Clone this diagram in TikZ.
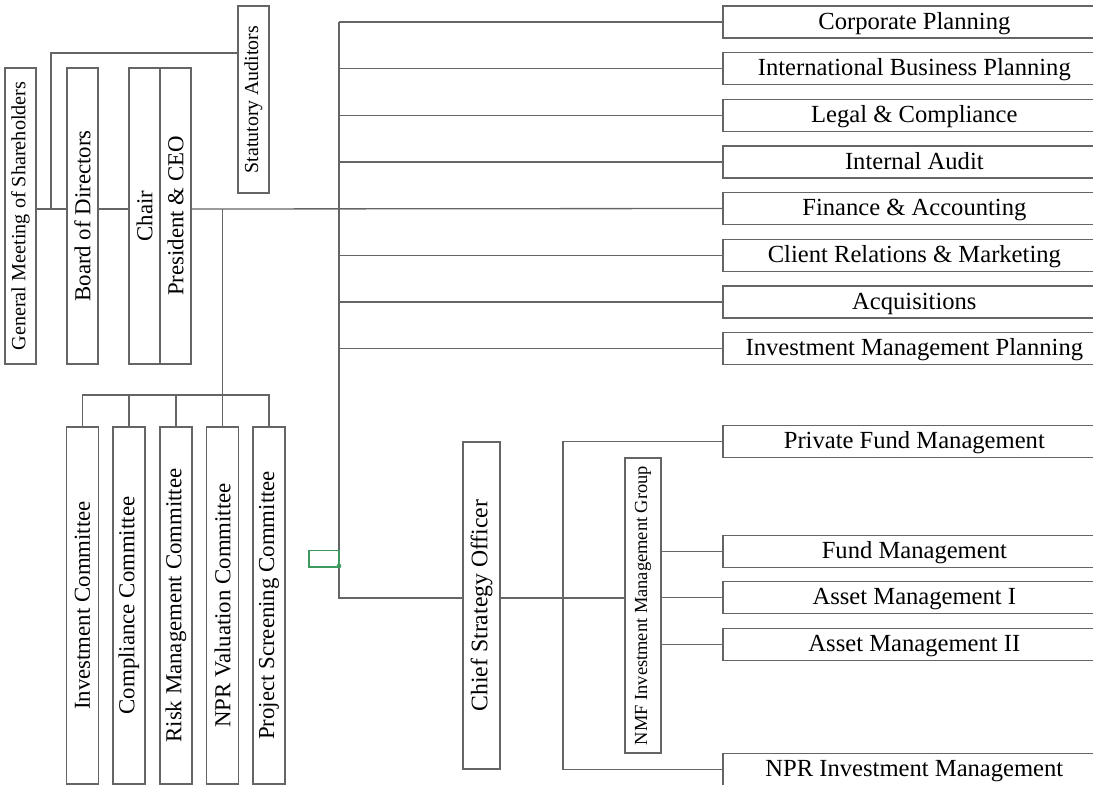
\documentclass[tikz,border=0pt]{standalone}
\usepackage{fontspec}
\setmainfont{Liberation Serif}
\usepackage{tikz}
\usetikzlibrary{calc}
\definecolor{linegray}{HTML}{656565}
\definecolor{excelgreen}{HTML}{3C9A5F}
\newcommand{\linecolor}{linegray}
\newcommand{\px}{0.02cm}
\newcommand{\thickness}{0.75pt}

\tikzset{
  vbox/.style={draw=\linecolor, line width=\thickness, rotate=90, inner sep=0pt, minimum height=31*\px, font=\fontsize{13}{15}\selectfont},
  hbox/.style={anchor=west, inner sep=0pt, minimum width=382*\px, minimum height=31*\px, text height=0.9em, text depth=0.1em, font=\fontsize{14}{16}\selectfont},
  link/.style={draw=\linecolor, line width=\thickness}
}

\begin{document}
\begin{tikzpicture}[x=\px, y=-\px]
\useasboundingbox (0,0) rectangle (1093,785);
\clip (0,0) rectangle (1093,785);
%top level
\node[vbox, minimum width=296*\px, font=\fontsize{11.5}{13}\selectfont] (gm) at (20.5,216) {General Meeting of Shareholders};
\node[vbox, minimum width=296*\px] (board) at (82.5,216) {Board of Directors};
\node[vbox, minimum width=296*\px] (chair) at (144.5,216) {Chair};
\node[vbox, minimum width=296*\px] (ceo) at (175.5,216) {President \& CEO};
\node[vbox, minimum width=187*\px, font=\fontsize{11.3}{13}\selectfont] (sa) at (253.5,99.5) {Statutory Auditors};
%committees
\node[vbox, minimum width=357*\px, minimum height=32*\px] (ic) at (82.5,605.5) {Investment Committee};
\node[vbox, minimum width=357*\px, minimum height=32*\px] (cc) at (129,605.5) {Compliance Committee};
\node[vbox, minimum width=357*\px, minimum height=32*\px] (rmc) at (176,605.5) {Risk Management Committee};
\node[vbox, minimum width=357*\px, minimum height=32*\px] (nvc) at (222.5,605.5) {NPR Valuation Committee};
\node[vbox, minimum width=357*\px, minimum height=32*\px] (psc) at (269,605.5) {Project Screening Committee};
%cso
\node[vbox, minimum width=327*\px, minimum height=37*\px, font=\fontsize{13.5}{15}\selectfont] (cso) at (481.5,605.5) {Chief Strategy Officer};
\node[vbox, minimum width=295*\px, minimum height=36*\px, font=\fontsize{10.5}{12}\selectfont] (nmf) at (643,605.5) {NMF Investment Management Group};
%departments (cut off at the right)
\node[hbox] (cp) at (723,22) {Corporate Planning};
\node[hbox] (ibp) at (723,68.5) {International Business Planning};
\node[hbox] (lc) at (723,115.5) {Legal \& Compliance};
\node[hbox] (ia) at (723,162) {Internal Audit};
\node[hbox] (fa) at (723,208.5) {Finance \& Accounting};
\node[hbox] (crm) at (723,255.5) {Client Relations \& Marketing};
\node[hbox] (acq) at (723,302) {Acquisitions};
\node[hbox] (imp) at (723,348.5) {Investment Management Planning};
\node[hbox] (pfm) at (723,441.5) {Private Fund Management};
\node[hbox] (fm) at (723,551.5) {Fund Management};
\node[hbox] (am1) at (723,597.5) {Asset Management I};
\node[hbox] (am2) at (723,644.5) {Asset Management II};
\node[hbox] (npr) at (723,769.5) {NPR Investment Management};
\foreach \d in {cp,ibp,lc,ia,fa,crm,acq,imp,pfm,fm,am1,am2,npr}
  \draw[link] (\d.north east) -- (\d.north west) -- (\d.south west) -- (\d.south east);
%levels
\coordinate (top) at (0,209);
\coordinate (au) at (51,209);
\coordinate (aul) at (0,53);
\coordinate (bus) at (0,395);
\coordinate (spine) at (339,0);
\coordinate (low) at (0,598);
\coordinate (sub) at (563,0);
%connectors
\draw[link] (gm.south |- top) -- (board.north |- top);
\draw[link] (au) |- (sa.north |- aul);
\draw[link] (board.south |- top) -- (chair.north |- top);
\draw[link] (ceo.south |- top) -- (fa.west);
\draw[link] (nvc.east |- top) -- (nvc.east);
\draw[link] (ic.east) -- (ic.east |- bus) -- (psc.east |- bus) -- (psc.east);
\draw[link] (cc.east |- bus) -- (cc.east);
\draw[link] (rmc.east |- bus) -- (rmc.east);
\draw[link] (spine |- cp.west) -- (spine |- low) -- (cso.north |- low);
\draw[link] (spine |- cp.west) -- (cp.west);
\draw[link] (spine |- ibp.west) -- (ibp.west);
\draw[link] (spine |- lc.west) -- (lc.west);
\draw[link] (spine |- ia.west) -- (ia.west);
\draw[link] (spine |- crm.west) -- (crm.west);
\draw[link] (spine |- acq.west) -- (acq.west);
\draw[link] (spine |- imp.west) -- (imp.west);
\draw[link] (cso.south |- low) -- (nmf.north |- low);
\draw[link] (pfm.west) -| (sub |- npr.west) -- (npr.west);
\draw[link] (nmf.south |- fm.west) -- (fm.west);
\draw[link] (nmf.south |- am1.west) -- (am1.west);
\draw[link] (nmf.south |- am2.west) -- (am2.west);
%selection mark
\draw[excelgreen, line width=1pt] (309,550.5) rectangle (339,567);
\fill[excelgreen] (339,566) circle (2.3);
\end{tikzpicture}
\end{document}
